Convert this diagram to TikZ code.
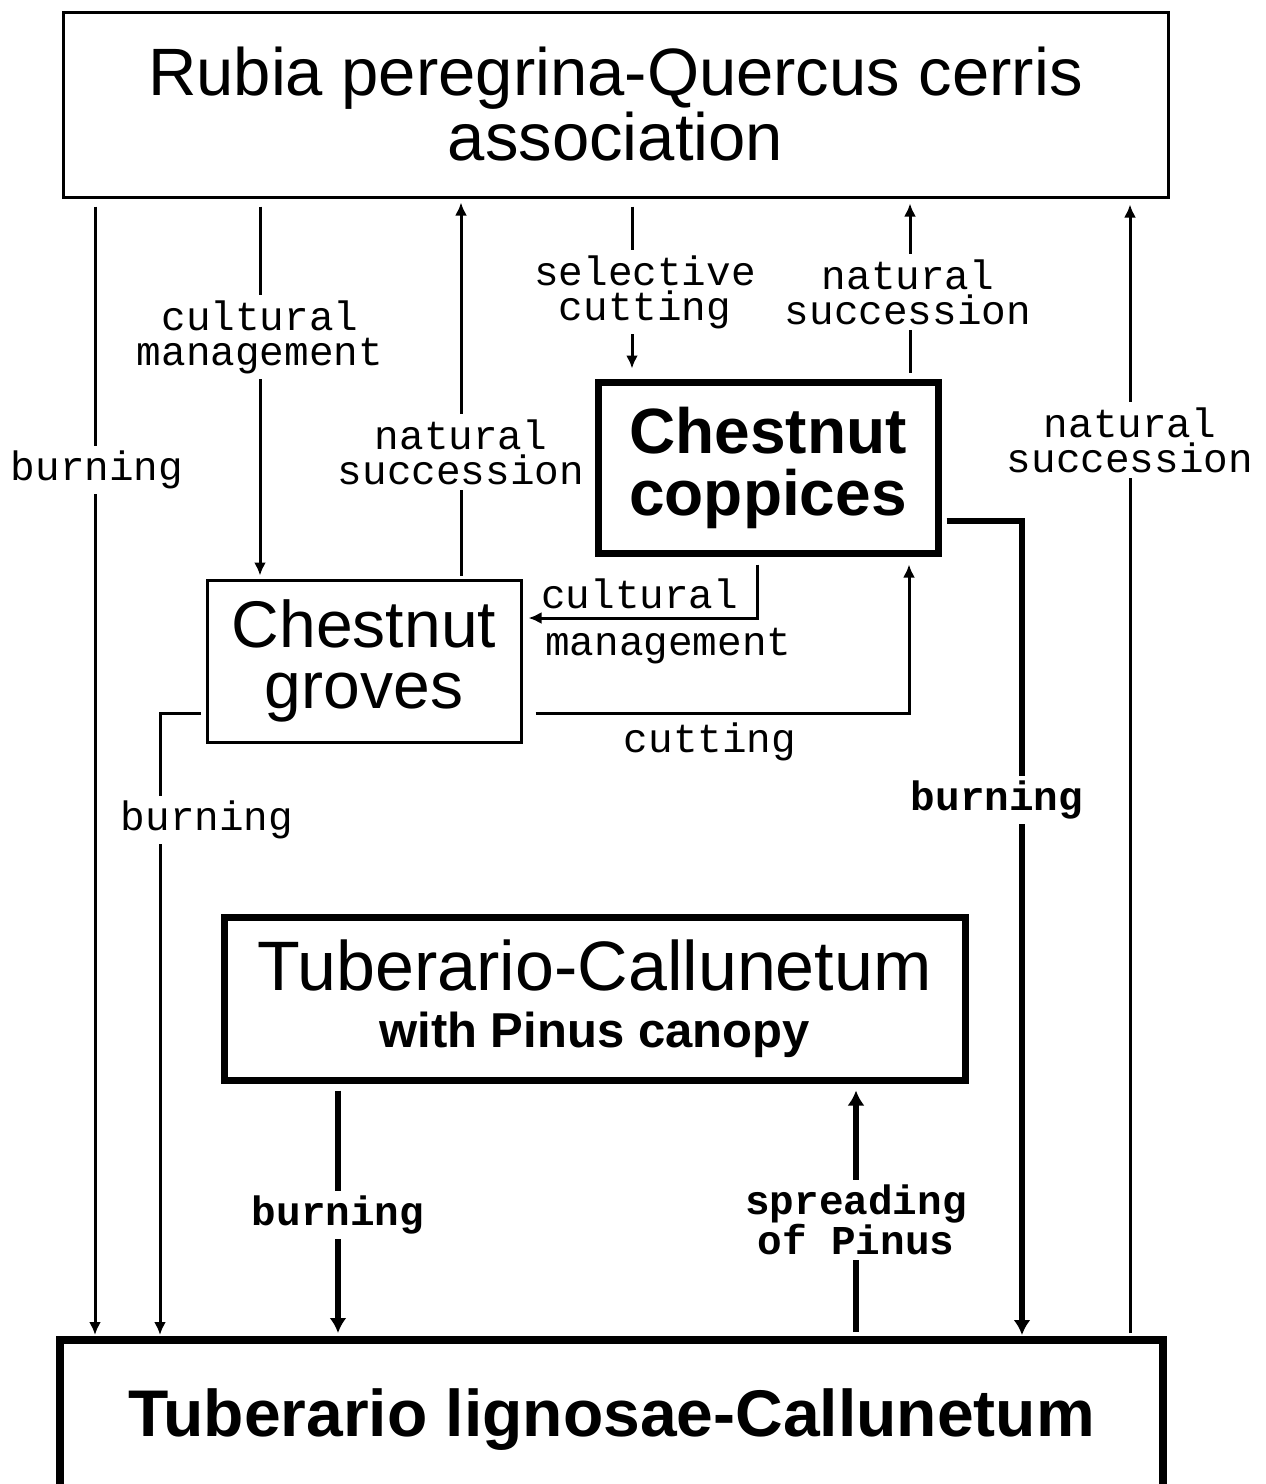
\documentclass[tikz,border=0pt]{standalone}
\usepackage{fontspec}
\setmainfont{Liberation Sans}
\setmonofont{Liberation Mono}
\usetikzlibrary{arrows.meta, positioning}
\tikzset{
  box/.style={rectangle, draw, line width=3pt, align=center, inner sep=0pt},
  heavy/.style={line width=7pt},
  flow/.style={line width=3pt, -{Latex[length=13pt,width=12pt]}},
  thickflow/.style={line width=6pt, -{Latex[length=15pt,width=17pt]}},
  lbl/.style={fill=white, align=center, inner xsep=2pt, inner ysep=5pt,
              font=\ttfamily\fontsize{41}{35}\selectfont},
  lblb/.style={lbl, font=\ttfamily\bfseries\fontsize{41}{40}\selectfont}
}

\begin{document}
\begin{tikzpicture}[x=1pt, y=-1pt]
  \useasboundingbox (0,0) rectangle (1266,1484);

  % plant communities
  \node[box, minimum width=1105pt, minimum height=185pt,
        font=\fontsize{67}{65}\selectfont] (rubia) at (615.5,104.5)
        {Rubia peregrina-Quercus cerris\\association};
  \node[box, heavy, minimum width=340pt, minimum height=171pt,
        font=\bfseries\fontsize{64}{62}\selectfont] (copp) at (768,467.5)
        {\raisebox{-5pt}{\parbox{300pt}{\centering Chestnut\\coppices}}};
  \node[box, minimum width=314pt, minimum height=162pt,
        font=\fontsize{66}{61}\selectfont] (grov) at (364,661)
        {\raisebox{-4pt}{\parbox{300pt}{\centering Chestnut\\groves}}};
  \node[box, heavy, minimum width=741pt, minimum height=163pt,
        font=\bfseries\fontsize{49}{57}\selectfont] (pinus) at (594.5,998.5)
        {{\mdseries\fontsize{70}{57}\selectfont Tuberario-Callunetum}\\
         with Pinus canopy};
  \node[box, line width=8pt, minimum width=1103pt, minimum height=160pt,
        font=\bfseries\fontsize{66}{66}\selectfont] (heath) at (611.5,1420)
        {Tuberario lignosae-Callunetum};

  % where the connectors run
  \coordinate (xburn) at (95,0);
  \coordinate (xcult) at (260,0);
  \coordinate (xnatg) at (461,0);
  \coordinate (xsel) at (632,0);
  \coordinate (xnatc) at (910,0);
  \coordinate (xnatr) at (1130,0);
  \coordinate (xpb) at (338,0);
  \coordinate (xsp) at (856,0);
  \coordinate (cmc) at (757,618);
  \coordinate (cutc) at (909,713);
  \coordinate (cbc) at (1022,521);
  \coordinate (gbc) at (160,713);

  % transitions
  \draw[flow, shorten <=8pt, shorten >=1pt] (rubia.south -| xburn) -- (heath.north -| xburn);
  \draw[flow, shorten <=8pt, shorten >=3pt] (rubia.south -| xcult) -- (grov.north -| xcult);
  \draw[flow, shorten <=3pt, shorten >=4pt] (grov.north -| xnatg) -- (rubia.south -| xnatg);
  \draw[flow, shorten <=8pt, shorten >=10pt] (rubia.south -| xsel) -- (copp.north -| xsel);
  \draw[flow, shorten <=6pt, shorten >=5pt] (copp.north -| xnatc) -- (rubia.south -| xnatc);
  \draw[flow, shorten <=3pt, shorten >=6pt] (heath.north -| xnatr) -- (rubia.south -| xnatr);
  \draw[flow, shorten <=8pt, shorten >=6pt] (copp.south -| cmc) -- (cmc) -- (grov.east |- cmc);
  \draw[flow, shorten <=13pt, shorten >=8pt] (grov.east |- cutc) -- (cutc) -- (copp.south -| cutc);
  \draw[thickflow, shorten <=5pt, shorten >=1pt] (copp.east |- cbc) -- (cbc) -- (heath.north -| cbc);
  \draw[flow, shorten <=5pt, shorten >=1pt] (grov.west |- gbc) -- (gbc) -- (heath.north -| gbc);
  \draw[thickflow, shorten <=7pt, shorten >=3pt] (pinus.south -| xpb) -- (heath.north -| xpb);
  \draw[thickflow, shorten <=4pt, shorten >=7pt] (heath.north -| xsp) -- (pinus.south -| xsp);

  % labels
  \node[lbl] (lburn) at (97,470) {burning};
  \node[lbl] (lcult) at (260,337) {cultural\\management};
  \node[lbl] (lnatg) at (461,452) {natural\\succession};
  \node[lbl] (lsel) at (645,292) {selective\\cutting};
  \node[lbl] (lnatc) at (908,292) {natural\\succession};
  \node[lbl] (lnatr) at (1130,440) {natural\\succession};
  \node[lbl, fill=none, inner sep=0pt, anchor=base west] (lcm1) at (541,608) {cultural};
  \node[lbl, fill=none, inner sep=0pt, anchor=base west] (lcm2) at (545,655) {management};
  \node[lbl, fill=none] (lcut) at (710,742) {cutting};
  \node[lblb] (lcb) at (997,800) {burning};
  \node[lbl] (lgb) at (207,820) {burning};
  \node[lblb] (lpb) at (338,1215) {burning};
  \node[lblb] (lsp) at (856,1220) {spreading\\of Pinus};
\end{tikzpicture}
\end{document}
